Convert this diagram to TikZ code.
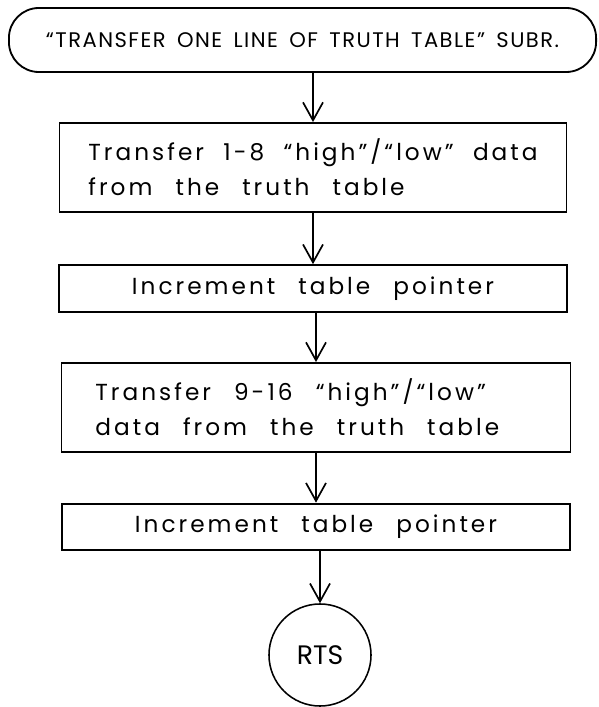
\documentclass[tikz,border=0pt]{standalone}
\usepackage{fontspec}
\setmainfont{Poppins}
\newfontfamily\handfont[LetterSpace=13, WordSpace=2.5]{Poppins}
\newfontfamily\capsfont[LetterSpace=7, WordSpace=1.6]{Poppins}
\usetikzlibrary{arrows.meta}
\tikzset{flow/.style={line width=1.3pt, -{Straight Barb[length=4.5mm, width=5mm, line width=1.2pt]}}}
\tikzset{subr/.style={draw, line width=1.3pt, rounded corners=0.75cm, minimum width=14.675cm,
    minimum height=1.6cm, font=\capsfont\fontsize{15}{16}\selectfont}}
\tikzset{step2/.style={draw, line width=1.3pt, minimum height=2.225cm, align=flush left,
    font=\handfont\fontsize{16.5}{25}\selectfont}}
\tikzset{step1/.style={draw, line width=1.3pt, minimum height=1.17cm,
    font=\handfont\fontsize{16.5}{25}\selectfont}}
\tikzset{rts/.style={draw, circle, line width=1.1pt, minimum size=2.55cm,
    font=\fontsize{19}{22}\selectfont}}

\begin{document}
\begin{tikzpicture}[x=0.025cm, y=-0.025cm]%{{{
        \useasboundingbox (0,0) rectangle (598,707);

        \node[subr] (Ns) at (302.5, 40) {“TRANSFER ONE LINE OF TRUTH TABLE” SUBR.};

        \node[step2, inner xsep=0.725cm, text width=11.225cm] (N1) at (313, 167.5)
        {\spaceskip=0pt Transfer 1-8 “high”/“low” data\\from the truth table};
        \node[step1, minimum width=12.7cm] (N2) at (313, 288.5)
        {Increment table pointer};
        \node[step2, inner xsep=0.85cm, text width=11.025cm] (N3) at (316, 407.5)
        {\spaceskip=0pt Transfer 9-16 “high”/“low”\\data from the truth table};
        \node[step1, minimum width=12.7cm] (N4) at (316, 527)
        {Increment table pointer};
        \node[rts] (Nr) at (320, 655) {RTS};

        \draw [flow] (Ns.south -| N1.north) -- (N1.north);
        \draw [flow] (N1.south -| N2.north) -- (N2.north);
        \draw [flow] (N2.south -| N3.north) -- (N3.north);
        \draw [flow] (N4.north |- N3.south) -- (N4.north);
        \draw [flow] (N4.south -| Nr.north) -- (Nr.north);

   \end{tikzpicture}
\end{document}
